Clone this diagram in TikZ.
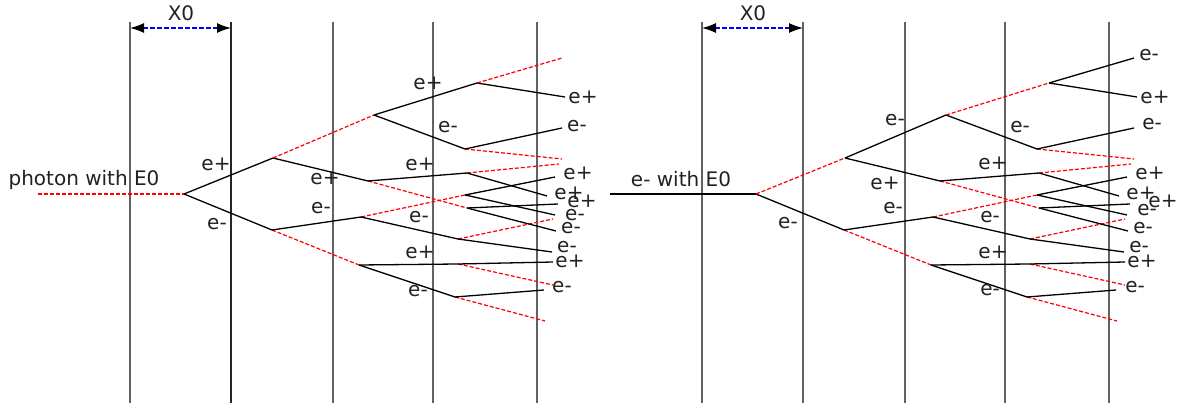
\documentclass[tikz,border=0pt]{standalone}
\usepackage{fontspec}
\setmainfont{DejaVu Sans}
\usetikzlibrary{arrows.meta}

\begin{document}
\begin{tikzpicture}[
  x=1pt, y=-1pt,
  every node/.style={font=\fontsize{20}{24}\selectfont, inner sep=0pt, text=black!87},
  layer/.style={line width=1.7pt, draw=black!62},
  elec/.style={line width=1.3pt, draw=black},
  phot/.style={line width=1.2pt, draw=red, dash pattern=on 4pt off 2pt},
  span/.style={{Latex[black,length=14pt,width=10pt]}-{Latex[black,length=14pt,width=10pt]},
               line width=1.2pt, blue, dash pattern=on 5pt off 2pt}
]
\useasboundingbox (0,0) rectangle (1186,403);

% absorber layers, photon panel (P) and electron panel (E)
\foreach \p/\dx in {P/0, E/572} {
  \foreach \x in {130,231,333,433,537}
    \draw[layer] (\x+\dx,22) -- (\x+\dx,403);
  \coordinate (\p-x0a) at (130+\dx,28);
  \coordinate (\p-x0b) at (231+\dx,28);
  % shower vertices and ends
  \coordinate (\p-in) at (38+\dx,194);
  \coordinate (\p-a)  at (184+\dx,194);
  \coordinate (\p-b)  at (273+\dx,158);
  \coordinate (\p-c)  at (272+\dx,230);
  \coordinate (\p-d)  at (374+\dx,115);
  \coordinate (\p-f)  at (368+\dx,181);
  \coordinate (\p-g)  at (477+\dx,83);
  \coordinate (\p-h)  at (465+\dx,149);
  \coordinate (\p-g1) at (562+\dx,58);
  \coordinate (\p-g2) at (565+\dx,97);
  \coordinate (\p-h1) at (562+\dx,128);
  \coordinate (\p-h2) at (562+\dx,159);
  \coordinate (\p-i)  at (467+\dx,173);
  \coordinate (\p-j)  at (467+\dx,208);
  \coordinate (\p-i1) at (559+\dx,164);
  \coordinate (\p-i2) at (547+\dx,196);
  \coordinate (\p-j1) at (558+\dx,204);
  \coordinate (\p-j2) at (556+\dx,231);
  \coordinate (\p-k)  at (361+\dx,217);
  \coordinate (\p-m)  at (359+\dx,265);
  \coordinate (\p-n)  at (465+\dx,195);
  \coordinate (\p-o)  at (458+\dx,239);
  \coordinate (\p-n1) at (555+\dx,177);
  \coordinate (\p-n2) at (555+\dx,215);
  \coordinate (\p-o1) at (553+\dx,219);
  \coordinate (\p-o2) at (552+\dx,252);
  \coordinate (\p-q)  at (458+\dx,264);
  \coordinate (\p-q1) at (553+\dx,262);
  \coordinate (\p-q2) at (553+\dx,285);
  \coordinate (\p-r)  at (455+\dx,297);
  \coordinate (\p-r1) at (544+\dx,290);
  \coordinate (\p-r2) at (545+\dx,321);
}
\draw[layer, draw=black!85] (231,22) -- (231,403);

% branches that both showers share
\foreach \p in {P,E} {
  \draw[span] (\p-x0a) -- (\p-x0b);
  \foreach \u/\v in {h/h2, f/j, i/i1, c/m, k/n, o/o1, q/q2, r/r2}
    \draw[phot] (\p-\u) -- (\p-\v);
  \foreach \u/\v in {a/c, b/f, d/h, g/g2, h/h1, f/i, i/i2, j/j1, j/j2, c/k,
                     k/o, n/n1, n/n2, o/o2, m/q, q/q1, m/r, r/r1}
    \draw[elec] (\p-\u) -- (\p-\v);
}

% photon shower
\foreach \u/\v in {in/a, b/d, g/g1}
  \draw[phot] (P-\u) -- (P-\v);
\foreach \u/\v in {a/b, d/g}
  \draw[elec] (P-\u) -- (P-\v);

% electron shower
\foreach \u/\v in {a/b, d/g}
  \draw[phot] (E-\u) -- (E-\v);
\foreach \u/\v in {in/a, b/d, g/g1}
  \draw[elec] (E-\u) -- (E-\v);

% labels
\node (P-x0) at (181,13) {X0};
\node (E-x0) at (753,13) {X0};
\node (P-title) at (84,180) {photon with E0};
\node (E-title) at (681,179) {e- with E0};

\foreach \n/\x/\y/\t in {1/216/164/e+, 2/217/224/e-, 3/428/83/e+, 4/448/127/e-,
    5/583/97/e+, 6/577/126/e-, 7/325/178/e+, 8/420/164/e+, 9/569/193/e+,
    10/582/201/e+, 11/571/228/e-, 12/578/173/e+, 13/575/215/e-, 14/321/208/e-,
    15/419/217/e-, 16/567/247/e-, 17/570/261/e+, 18/420/252/e+, 19/418/291/e-,
    20/562/287/e-}
  \node (P-lbl\n) at (\x,\y) {\t};

\foreach \n/\x/\y/\t in {1/788/223/e-, 2/895/120/e-, 3/885/183/e+, 4/1020/127/e-,
    5/1149/55/e-, 6/1155/97/e+, 7/1152/124/e-, 8/993/163/e+, 9/1150/173/e+,
    10/1141/193/e+, 11/1163/201/e+, 12/1147/210/e-, 13/1143/228/e-, 14/893/208/e-,
    15/990/217/e-, 16/1139/247/e-, 17/1142/261/e+, 18/993/252/e+, 19/990/290/e-,
    20/1135/287/e-}
  \node (E-lbl\n) at (\x,\y) {\t};

\end{tikzpicture}
\end{document}
